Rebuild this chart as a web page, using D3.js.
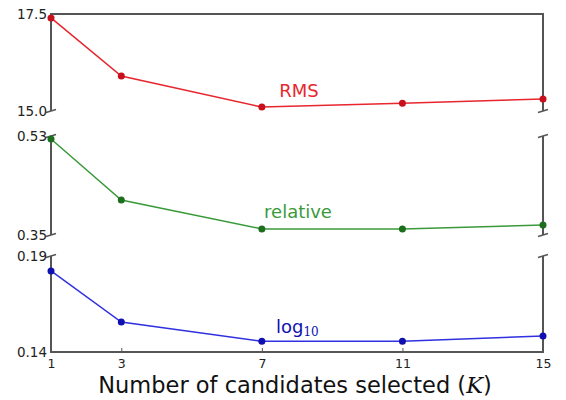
<!DOCTYPE html>
<html><head><meta charset="utf-8">
<script src="https://cdn.jsdelivr.net/npm/d3@7"></script>
<style>body{margin:0;background:#fff}svg{display:block}</style>
</head><body>
<script>
const kValues = [1, 3, 7, 11, 15];
const rmsValues = [17.40, 15.90, 15.10, 15.20, 15.31];
const relativeValues = [0.5245, 0.4136, 0.361, 0.361, 0.368];
const log10Values = [0.1822, 0.1556, 0.1456, 0.1456, 0.1483];
const rmsDomain = [15.0, 17.5];
const relativeDomain = [0.35, 0.53];
const log10Domain = [0.14, 0.19];
const rmsTicks = ["15.0", "17.5"];
const relativeTicks = ["0.35", "0.53"];
const log10Ticks = ["0.14", "0.19"];

const W = 566, H = 400;
const svg = d3.select("body").append("svg").attr("width", W).attr("height", H);
const x = d3.scaleLinear().domain([1, 15]).range([51, 543]);
const font = "DejaVu Sans, sans-serif";
const spine = "#555";

const panels = [
  {vals: rmsValues, dom: rmsDomain, ticks: rmsTicks, range: [111, 14], line: "#e8262e", dot: "#c8101c", top: true, bottom: false,
   label: "RMS", lx: 299, ly: 97},
  {vals: relativeValues, dom: relativeDomain, ticks: relativeTicks, range: [235, 136], line: "#3a9a3a", dot: "#1d6e1d", top: false, bottom: false,
   label: "relative", lx: 298, ly: 218},
  {vals: log10Values, dom: log10Domain, ticks: log10Ticks, range: [352, 256], line: "#3030e0", dot: "#1010b0", top: false, bottom: true,
   label: "log10", lx: 300, ly: 333}
];

panels.forEach(p => {
  const y = d3.scaleLinear().domain(p.dom).range(p.range);
  const g = svg.append("g");
  const y0 = p.range[0], y1 = p.range[1];
  g.append("line").attr("x1", x(1)).attr("x2", x(1)).attr("y1", y0).attr("y2", y1).attr("stroke", spine).attr("stroke-width", 2);
  g.append("line").attr("x1", x(15)).attr("x2", x(15)).attr("y1", y0).attr("y2", y1).attr("stroke", spine).attr("stroke-width", 2);
  if (p.top) g.append("line").attr("x1", x(1)-1).attr("x2", x(15)+1).attr("y1", y1).attr("y2", y1).attr("stroke", spine).attr("stroke-width", 2);
  if (p.bottom) g.append("line").attr("x1", x(1)-1).attr("x2", x(15)+1).attr("y1", y0).attr("y2", y0).attr("stroke", spine).attr("stroke-width", 2);
  const brk = (cx, cy) => g.append("line").attr("x1", cx-5).attr("x2", cx+5).attr("y1", cy+1.5).attr("y2", cy-1.5).attr("stroke", spine).attr("stroke-width", 1.5);
  if (!p.top) { brk(x(1), y1); brk(x(15), y1); }
  if (!p.bottom) { brk(x(1), y0); brk(x(15), y0); }
  p.ticks.forEach(t => {
    g.append("text").attr("x", 47).attr("y", y(+t)).attr("dy", "0.35em").attr("text-anchor", "end")
      .attr("font-family", font).attr("font-size", 13.5).attr("fill", "#222").text(t);
  });
  const line = d3.line().x((d, i) => x(kValues[i])).y(d => y(d));
  g.append("path").datum(p.vals).attr("d", line).attr("fill", "none").attr("stroke", p.line).attr("stroke-width", 1.5);
  g.selectAll("circle").data(p.vals).join("circle").attr("cx", (d, i) => x(kValues[i])).attr("cy", d => y(d))
    .attr("r", 3.5).attr("fill", p.dot);
  if (p.label === "log10") {
    const t = g.append("text").attr("x", 276).attr("y", p.ly).attr("font-family", font).attr("font-size", 18).attr("fill", p.dot);
    t.append("tspan").text("log");
    t.append("tspan").attr("font-family", "DejaVu Serif, serif").attr("font-size", 12).attr("dy", 3).text("10");
  } else {
    g.append("text").attr("x", p.lx).attr("y", p.ly).attr("text-anchor", "middle").attr("font-family", font).attr("font-size", 18).attr("fill", p.line).text(p.label);
  }
});

const xAxis = d3.axisBottom(x).tickValues(kValues).tickSize(-4).tickPadding(6).tickFormat(d3.format("d"));
const ax = svg.append("g").attr("transform", "translate(0,352)").call(xAxis);
ax.select(".domain").remove();
ax.selectAll(".tick line").attr("stroke", spine);
ax.selectAll(".tick text").attr("font-family", font).attr("font-size", 12.5).attr("fill", "#222").attr("y", 5).attr("dy", "0.9em");

const xl = svg.append("text").attr("x", 295).attr("y", 393).attr("text-anchor", "middle").attr("font-family", font).attr("font-size", 22.5).attr("fill", "#111");
xl.append("tspan").text("Number of candidates selected (");
xl.append("tspan").attr("font-family", "DejaVu Serif, serif").attr("font-style", "italic").text("K");
xl.append("tspan").text(")");
</script>
</body></html>
